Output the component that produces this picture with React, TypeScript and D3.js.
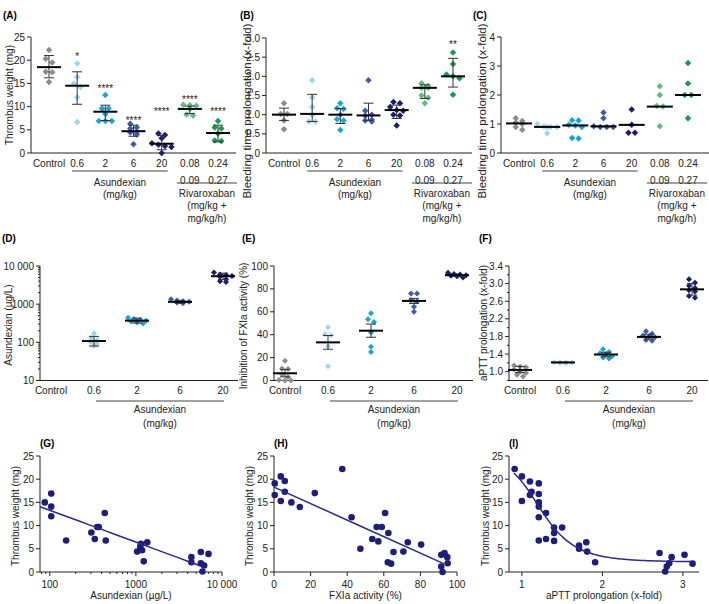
import React from "react";
import * as d3 from "d3";

// ---------------- DATA ----------------
const catsABC = ["Control", "0.6", "2", "6", "20", "0.08", "0.24"];
const catsABCrow2 = ["", "", "", "", "", "0.09", "0.27"];
const catsDEF = ["Control", "0.6", "2", "6", "20"];
const groupColors = ["#8c8c8c", "#9dd7ec", "#1ba3d5", "#3d5cb0", "#1c1c70", "#5cbd82", "#17994f"];

// (A) Thrombus weight (mg) – mean ± SD
const thrombusA = [
  [22.2, 20.3, 19.5, 17.5, 17.4, 15.3],
  [19.3, 16.4, 15.0, 14.2, 12.0, 6.7],
  [12.5, 9.6, 9.6, 8.4, 6.9, 6.9, 6.9],
  [6.3, 5.5, 5.3, 4.6, 4.4, 4.0, 1.9],
  [4.2, 3.9, 3.2, 2.1, 1.8, 1.5, 1.3, 0.0],
  [10.4, 10.3, 10.2, 9.5, 8.3, 8.1],
  [6.9, 5.5, 5.3, 4.2, 2.7, 2.6],
];
const thrombusMeanA = [18.5, 14.5, 8.9, 4.7, 2.0, 9.5, 4.3];
const thrombusLoA = [16.2, 10.5, 7.0, 3.6, 0.7, 8.5, 2.4];
const thrombusHiA = [21.0, 17.5, 10.3, 6.0, 3.8, 10.1, 6.0];
const starsA = ["", "*", "****", "****", "****", "****", "****"];
const starLevelA = [0, 21.0, 14.0, 7.2, 9.0, 11.6, 9.0];

// (B) Bleeding time prolongation – median with IQR
const bleedB = [
  [1.3, 1.02, 1.02, 0.85, 0.62],
  [1.9, 1.45, 1.2, 1.0, 0.82, 0.82],
  [1.3, 1.17, 1.15, 1.0, 0.88, 0.85, 0.6],
  [1.9, 1.1, 1.0, 0.97, 0.87, 0.85, 0.82],
  [1.33, 1.3, 1.2, 1.12, 1.1, 1.0, 0.98, 0.72],
  [1.82, 1.75, 1.7, 1.7, 1.5, 1.45, 1.3],
  [2.62, 2.32, 2.05, 2.0, 1.95, 1.52],
];
const bleedMedB = [1.0, 1.02, 1.0, 0.98, 1.12, 1.7, 2.0];
const bleedLoB = [0.85, 0.82, 0.77, 0.85, 0.9, 1.42, 1.72];
const bleedHiB = [1.17, 1.53, 1.16, 1.3, 1.25, 1.78, 2.47];
const starsB = ["", "", "", "", "", "", "**"];
const starLevelB = [0, 0, 0, 0, 0, 0, 2.85];

// (C) Bleeding time prolongation – median
const bleedC = [
  [1.2, 1.1, 1.05, 1.0, 0.9, 0.8],
  [1.0, 0.92, 0.9, 0.9, 0.9, 0.68],
  [1.13, 1.12, 0.97, 0.95, 0.9, 0.52, 0.5],
  [1.4, 1.2, 0.92, 0.9, 0.9, 0.9],
  [1.5, 0.97, 0.7, 0.7],
  [2.3, 2.0, 1.62, 1.6, 0.92],
  [3.1, 2.4, 2.0, 2.0, 1.2],
];
const bleedMedC = [1.02, 0.9, 0.95, 0.92, 0.97, 1.6, 2.0];

// (D) Asundexian plasma conc. (µg/L)
const asuD = [
  [],
  [170, 130, 115, 100, 90, 80],
  [440, 410, 390, 370, 350, 330, 310],
  [1350, 1250, 1200, 1150, 1100, 1050],
  [6800, 6000, 5800, 5500, 5200, 4500, 4000, 3800],
];
const asuMeanD = [null, 108, 370, 1150, 5400];
const asuLoD = [null, 80, 320, 1050, 4400];
const asuHiD = [null, 143, 430, 1260, 6500];

// (E) Inhibition of FXIa activity (%)
const fxiaE = [
  [17.2, 10.5, 10.0, 5.5, 3.0, 0.5, 0.0, 0.0],
  [46.5, 40.5, 39.5, 30, 12.5],
  [58.7, 53.5, 51, 42, 29.5, 25],
  [76, 76, 70, 69, 64.5, 60],
  [94, 93, 92.5, 92, 91.5, 91, 90],
];
const fxiaMeanE = [6.3, 33.3, 43.5, 69.5, 92];
const fxiaLoE = [3.2, 27.3, 37.8, 67.3, 91.3];
const fxiaHiE = [9.5, 39.3, 49.3, 71.7, 92.7];

// (F) aPTT prolongation (x-fold)
const apttF = [
  [1.14, 1.12, 1.1, 1.05, 1.0, 0.97, 0.93, 0.89],
  [1.215, 1.21, 1.21, 1.21, 1.205, 1.2],
  [1.51, 1.45, 1.42, 1.4, 1.35, 1.32, 1.3],
  [1.92, 1.86, 1.82, 1.8, 1.78, 1.72, 1.7],
  [3.1, 3.02, 2.95, 2.9, 2.85, 2.82, 2.72, 2.68],
];
const apttMeanF = [1.04, 1.21, 1.39, 1.79, 2.87];
const apttLoF = [0.98, 1.205, 1.34, 1.74, 2.74];
const apttHiF = [1.12, 1.215, 1.44, 1.85, 3.0];

// (G) thrombus vs asundexian conc.
const asuConcG = [87.5, 104, 104, 104, 155, 304, 333, 355, 371, 435, 447, 1034, 1124, 1147, 1180, 1234, 1356, 4410, 4410, 5680, 5680, 5930, 6200, 6970];
const thrombusG = [15.0, 16.9, 14.1, 12.0, 6.8, 8.5, 7.1, 9.7, 9.7, 12.7, 6.8, 4.4, 5.5, 6.1, 4.7, 2.3, 6.4, 3.2, 2.1, 4.3, 1.9, 0.1, 1.4, 3.9];
const fitG = { intercept: 27.0, slope: -6.85, from: 77, to: 6200 };

// (H) thrombus vs FXIa activity
const fxiaH = [0.4, 0.4, 3.7, 3.7, 5.9, 5.9, 9.5, 14.1, 22.3, 37.3, 42.4, 47.2, 53.7, 56.1, 57.0, 58.9, 60.7, 62.5, 62.2, 64.0, 65.3, 70.7, 73.1, 80.4, 91.4, 91.4, 92.1, 93.2, 94.7, 94.9];
const thrombusH = [19.1, 16.6, 20.6, 15.3, 19.6, 17.3, 15.0, 14.0, 17.0, 22.2, 11.8, 5.0, 7.1, 9.7, 6.6, 9.7, 12.7, 8.4, 2.1, 1.8, 4.3, 4.4, 6.4, 5.9, 3.7, 1.2, 0.0, 4.1, 3.2, 1.9];
const fitH = { intercept: 18.3, slope: -0.178, from: 0, to: 93 };

// (I) thrombus vs aPTT prolongation
const apttI = [0.91, 1.0, 1.0, 1.1, 1.12, 1.1, 1.21, 1.21, 1.21, 1.21, 1.21, 1.21, 1.3, 1.3, 1.4, 1.4, 1.4, 1.5, 1.71, 1.71, 1.8, 1.81, 1.91, 2.71, 2.78, 2.8, 2.83, 2.86, 3.02, 3.12];
const thrombusI = [22.2, 20.6, 15.3, 19.5, 17.3, 16.6, 19.1, 16.8, 15.0, 14.1, 11.8, 6.8, 12.7, 7.1, 9.6, 8.4, 6.7, 9.6, 5.7, 5.0, 6.4, 4.4, 2.1, 4.1, 0.1, 1.2, 1.9, 3.2, 3.7, 1.8];
const fitI = { bottom: 2.15, top: 24.0, ec50: 1.25, hill: 6, from: 0.9, to: 3.12 };

// ---------------- RENDERING ----------------
const FONT = "'Liberation Sans', Arial, Helvetica, sans-serif";
const AX = "#222";
const TXT = "#222";
const NAVY = "#1e1e78";

function diamond(x: number, y: number, r: number) {
  return `M${x},${y - r}L${x + r},${y}L${x},${y + r}L${x - r},${y}Z`;
}

function swarm(values: number[], yf: (v: number) => number, cx: number, step: number, maxRow = 4) {
  const order = values.map((_, i) => i).sort((a, b) => values[b] - values[a]);
  const out: { x: number; y: number }[] = new Array(values.length);
  let row: number[] = [];
  let rowY = 0;
  const flush = () => {
    const n = row.length;
    row.forEach((i, k) => {
      out[i] = { x: cx + (k - (n - 1) / 2) * step, y: yf(values[i]) };
    });
    row = [];
  };
  for (const i of order) {
    const py = yf(values[i]);
    if (row.length && (Math.abs(py - rowY) > step * 0.6 || row.length >= maxRow)) flush();
    if (!row.length) rowY = py;
    row.push(i);
  }
  flush();
  return out;
}

function YAxis({ axisX, y, yTop, yBottom, ticks, fmt, minor }: any) {
  return (
    <g>
      <line x1={axisX} x2={axisX} y1={yBottom} y2={yTop} stroke={AX} strokeWidth={1} />
      {ticks.map((t: number) => (
        <g key={"t" + t}>
          <line x1={axisX - 4} x2={axisX} y1={y(t)} y2={y(t)} stroke={AX} />
          <text x={axisX - 6} y={y(t) + 3.5} textAnchor="end" fontSize={10} fill={TXT}>
            {fmt(t)}
          </text>
        </g>
      ))}
      {(minor || []).map((t: number) => (
        <line key={"m" + t} x1={axisX - 2} x2={axisX} y1={y(t)} y2={y(t)} stroke={AX} />
      ))}
    </g>
  );
}

function CatPanel(p: any) {
  const { axisX, axisEnd, y, yBottom, x, cats, cats2, groups, colors, center, lo, hi, lineHalf, capHalf, step, marker, stars, starLevels } = p;
  return (
    <g>
      <line x1={axisX} x2={axisEnd} y1={yBottom} y2={yBottom} stroke={AX} />
      {cats.map((c: string) => (
        <text key={"c" + c} x={x(c)} y={yBottom + 13.5} textAnchor="middle" fontSize={10} fill={TXT}>
          {c}
        </text>
      ))}
      {cats2 &&
        cats2.map((c: string, i: number) =>
          c ? (
            <text key={"c2" + i} x={x(cats[i])} y={yBottom + 30.5} textAnchor="middle" fontSize={10} fill={TXT}>
              {c}
            </text>
          ) : null
        )}
      {groups.map((vals: number[], gi: number) =>
        swarm(vals, y, x(cats[gi]), step).map((pt, k) => (
          <path key={`p${gi}-${k}`} d={diamond(pt.x, pt.y, marker / 2)} fill={colors[gi]} />
        ))
      )}
      {groups.map((_: any, gi: number) => {
        const cx = x(cats[gi]);
        const m = center[gi];
        if (m == null) return null;
        return (
          <g key={"s" + gi}>
            {lo && hi && lo[gi] != null && (
              <g stroke="#333" strokeWidth={1}>
                <line x1={cx} x2={cx} y1={y(lo[gi])} y2={y(hi[gi])} />
                <line x1={cx - capHalf} x2={cx + capHalf} y1={y(lo[gi])} y2={y(lo[gi])} />
                <line x1={cx - capHalf} x2={cx + capHalf} y1={y(hi[gi])} y2={y(hi[gi])} />
              </g>
            )}
            <line x1={cx - lineHalf} x2={cx + lineHalf} y1={y(m)} y2={y(m)} stroke="#000" strokeWidth={2} />
          </g>
        );
      })}
      {stars &&
        stars.map((s: string, gi: number) =>
          s ? (
            <text key={"st" + gi} x={x(cats[gi])} y={y(starLevels[gi]) + 4} textAnchor="middle" fontSize={10} fill={TXT}>
              {s}
            </text>
          ) : null
        )}
    </g>
  );
}

function GroupLabelsABC({ x }: any) {
  const a1 = x("0.6") - 5, a2 = x("20") + 6;
  const r1 = x("0.08") - 13, r2 = x("0.24") + 19;
  const am = (a1 + a2) / 2, rm = (r1 + r2) / 2;
  return (
    <g fontSize={10} fill={TXT} textAnchor="middle">
      <line x1={a1} x2={a2} y1={171} y2={171} stroke="#444" />
      <text x={am} y={185.5}>Asundexian</text>
      <text x={am} y={198}>(mg/kg)</text>
      <line x1={r1} x2={r2} y1={183} y2={183} stroke="#444" />
      <text x={rm} y={196.5}>Rivaroxaban</text>
      <text x={rm} y={209}>(mg/kg +</text>
      <text x={rm} y={221.5}>mg/kg/h)</text>
    </g>
  );
}

function GroupLabelsDEF({ x }: any) {
  const a1 = x("0.6") + 2, a2 = x("20") + 1;
  const am = (a1 + a2) / 2;
  return (
    <g fontSize={10} fill={TXT} textAnchor="middle">
      <line x1={a1} x2={a2} y1={401} y2={401} stroke="#444" />
      <text x={am} y={412.5}>Asundexian</text>
      <text x={am} y={426.5}>(mg/kg)</text>
    </g>
  );
}

function YTitle({ x, y, text, size = 10 }: any) {
  return (
    <text transform={`translate(${x},${y}) rotate(-90)`} textAnchor="middle" fontSize={size} fill={TXT}>
      {text}
    </text>
  );
}

function PanelLabel({ x, y, text }: any) {
  return (
    <text x={x} y={y} fontSize={10} fontWeight="bold" fill="#000">
      {text}
    </text>
  );
}

function ScatterPanel(p: any) {
  const { axisX, axisEnd, x, y, xs, ys, xTicks, xFmt, xMinor, curve, xTitle } = p;
  const yBottom = 572;
  return (
    <g>
      <YAxis axisX={axisX} y={y} yTop={456} yBottom={yBottom} ticks={[0, 5, 10, 15, 20, 25]} fmt={(v: number) => String(v)} />
      <line x1={axisX} x2={axisEnd} y1={yBottom} y2={yBottom} stroke={AX} />
      {xTicks.map((t: number) => (
        <g key={"xt" + t}>
          <line x1={x(t)} x2={x(t)} y1={yBottom} y2={yBottom + 4} stroke={AX} />
          <text x={x(t)} y={yBottom + 15.5} textAnchor="middle" fontSize={10} fill={TXT}>
            {xFmt(t)}
          </text>
        </g>
      ))}
      {(xMinor || []).map((t: number) => (
        <line key={"xm" + t} x1={x(t)} x2={x(t)} y1={yBottom} y2={yBottom + 2} stroke={AX} />
      ))}
      <text x={(axisX + axisEnd) / 2} y={599} textAnchor="middle" fontSize={10} fill={TXT}>
        {xTitle}
      </text>
      {xs.map((v: number, i: number) => (
        <circle key={"pt" + i} cx={x(v)} cy={y(ys[i])} r={3.3} fill={NAVY} />
      ))}
      <path d={curve} fill="none" stroke="#2a2a8c" strokeWidth={1.5} />
    </g>
  );
}

export default function App() {
  // ---- scales for A/B/C ----
  const yA = d3.scaleLinear().domain([0, 25]).range([153, 37]);
  const yB = d3.scaleLinear().domain([0, 3]).range([153, 38]);
  const yC = d3.scaleLinear().domain([0, 4]).range([153, 37]);
  const xA = d3.scalePoint<string>().domain(catsABC).range([49, 218]);
  const xB = d3.scalePoint<string>().domain(catsABC).range([284, 453]);
  const xC = d3.scalePoint<string>().domain(catsABC).range([519, 688]);

  // ---- scales for D/E/F ----
  const yD = d3.scaleLog().domain([10, 10000]).range([380.5, 266]);
  const yE = d3.scaleLinear().domain([0, 100]).range([380.5, 266]);
  const yF = d3.scaleLinear().domain([0.8, 3.4]).range([380.5, 266]);
  const xD = d3.scalePoint<string>().domain(catsDEF).range([51, 223]);
  const xE = d3.scalePoint<string>().domain(catsDEF).range([285, 457]);
  const xF = d3.scalePoint<string>().domain(catsDEF).range([520, 692]);

  // ---- scales for G/H/I ----
  const yG = d3.scaleLinear().domain([0, 25]).range([572, 456]);
  const xG = d3.scaleLog().domain([77, 10000]).range([40, 222]);
  const xH = d3.scaleLinear().domain([0, 100]).range([274, 457]);
  const xI = d3.scaleLinear().domain([0.84, 3.2]).range([509, 699]);

  const sample = (a: number, b: number, n: number, log = false) =>
    d3.range(n + 1).map((i) => (log ? Math.pow(10, Math.log10(a) + ((Math.log10(b) - Math.log10(a)) * i) / n) : a + ((b - a) * i) / n));
  const curveG = d3.line<number>().x((v) => xG(v)).y((v) => yG(fitG.intercept + fitG.slope * Math.log10(v)))(sample(fitG.from, fitG.to, 20, true)) || "";
  const curveH = d3.line<number>().x((v) => xH(v)).y((v) => yG(fitH.intercept + fitH.slope * v))(sample(fitH.from, fitH.to, 2)) || "";
  const curveI =
    d3
      .line<number>()
      .x((v) => xI(v))
      .y((v) => yG(fitI.bottom + (fitI.top - fitI.bottom) / (1 + Math.pow(v / fitI.ec50, fitI.hill))))
      .curve(d3.curveBasis)(sample(fitI.from, fitI.to, 80)) || "";

  const fmt1 = (v: number) => (v === 0 ? "0" : v.toFixed(1));
  const logMinor = (a: number, b: number) => {
    const out: number[] = [];
    for (let dec = 1; dec < 100000; dec *= 10) for (let k = 2; k <= 9; k++) { const v = dec * k; if (v > a && v < b) out.push(v); }
    return out;
  };

  return (
    <svg width={709} height={604} style={{ position: "absolute", left: 0, top: 0, background: "#fff" }} fontFamily={FONT}>
      <rect width={709} height={604} fill="#fff" />

      {/* ---------- A ---------- */}
      <PanelLabel x={3} y={19} text="(A)" />
      <YAxis axisX={31} y={yA} yTop={37} yBottom={153} ticks={[0, 5, 10, 15, 20, 25]} fmt={(v: number) => String(v)} />
      <YTitle x={13} y={95} text="Thrombus weight (mg)" />
      <CatPanel axisX={31} axisEnd={236} y={yA} yBottom={153} x={xA} cats={catsABC} cats2={catsABCrow2} groups={thrombusA} colors={groupColors}
        center={thrombusMeanA} lo={thrombusLoA} hi={thrombusHiA} lineHalf={12} capHalf={5} step={6.5} marker={6.5} stars={starsA} starLevels={starLevelA} />
      <GroupLabelsABC x={xA} />

      {/* ---------- B ---------- */}
      <PanelLabel x={240} y={19} text="(B)" />
      <YAxis axisX={266} y={yB} yTop={38} yBottom={153} ticks={[0, 0.5, 1, 1.5, 2, 2.5, 3]} fmt={fmt1} />
      <YTitle x={251} y={111} text="Bleeding time prolongation (x-fold)" size={11.5} />
      <CatPanel axisX={266} axisEnd={472} y={yB} yBottom={153} x={xB} cats={catsABC} cats2={catsABCrow2} groups={bleedB} colors={groupColors}
        center={bleedMedB} lo={bleedLoB} hi={bleedHiB} lineHalf={12} capHalf={5} step={6.5} marker={6.5} stars={starsB} starLevels={starLevelB} />
      <GroupLabelsABC x={xB} />

      {/* ---------- C ---------- */}
      <PanelLabel x={473} y={19} text="(C)" />
      <YAxis axisX={501} y={yC} yTop={37} yBottom={153} ticks={[0, 1, 2, 3, 4]} fmt={(v: number) => String(v)} />
      <YTitle x={486} y={111} text="Bleeding time prolongation (x-fold)" size={11.5} />
      <CatPanel axisX={501} axisEnd={709} y={yC} yBottom={153} x={xC} cats={catsABC} cats2={catsABCrow2} groups={bleedC} colors={groupColors}
        center={bleedMedC} lineHalf={13} capHalf={5} step={6.5} marker={6.5} />
      <GroupLabelsABC x={xC} />

      {/* ---------- D ---------- */}
      <PanelLabel x={2} y={242} text="(D)" />
      <YAxis axisX={40} y={yD} yTop={266} yBottom={380.5} ticks={[10, 100, 1000, 10000]} fmt={(v: number) => (v === 10000 ? "10 000" : String(v))} minor={logMinor(10, 10000)} />
      <YTitle x={11.5} y={325} text="Asundexian (µg/L)" />
      <CatPanel axisX={40} axisEnd={238} y={yD} yBottom={380.5} x={xD} cats={catsDEF} groups={asuD} colors={groupColors}
        center={asuMeanD} lo={asuLoD} hi={asuHiD} lineHalf={12} capHalf={5} step={6} marker={6} />
      <GroupLabelsDEF x={xD} />

      {/* ---------- E ---------- */}
      <PanelLabel x={242} y={242} text="(E)" />
      <YAxis axisX={274} y={yE} yTop={266} yBottom={380.5} ticks={[0, 20, 40, 60, 80, 100]} fmt={(v: number) => String(v)} />
      <YTitle x={246.5} y={326} text="Inhibition of FXIa activity (%)" />
      <CatPanel axisX={274} axisEnd={473} y={yE} yBottom={380.5} x={xE} cats={catsDEF} groups={fxiaE} colors={groupColors}
        center={fxiaMeanE} lo={fxiaLoE} hi={fxiaHiE} lineHalf={12} capHalf={5} step={6} marker={6} />
      <GroupLabelsDEF x={xE} />

      {/* ---------- F ---------- */}
      <PanelLabel x={479} y={242} text="(F)" />
      <YAxis axisX={509} y={yF} yTop={266} yBottom={380.5} ticks={[1.0, 1.4, 1.8, 2.2, 2.6, 3.0, 3.4]} fmt={(v: number) => v.toFixed(1)} minor={[0.8, 1.2, 1.6, 2.0, 2.4, 2.8, 3.2]} />
      <YTitle x={486.5} y={323} text="aPTT prolongation (x-fold)" />
      <CatPanel axisX={509} axisEnd={708} y={yF} yBottom={380.5} x={xF} cats={catsDEF} groups={apttF} colors={groupColors}
        center={apttMeanF} lo={apttLoF} hi={apttHiF} lineHalf={12} capHalf={5} step={6} marker={6} />
      <GroupLabelsDEF x={xF} />

      {/* ---------- G ---------- */}
      <PanelLabel x={40} y={447} text="(G)" />
      <YTitle x={18.5} y={516} text="Thrombus weight (mg)" />
      <ScatterPanel axisX={40} axisEnd={222} x={xG} y={yG} xs={asuConcG} ys={thrombusG} xTicks={[100, 1000, 10000]}
        xFmt={(v: number) => (v === 10000 ? "10 000" : String(v))} xMinor={[80, 90, ...logMinor(100, 10000)]} curve={curveG} xTitle="Asundexian (µg/L)" />

      {/* ---------- H ---------- */}
      <PanelLabel x={274} y={447} text="(H)" />
      <YTitle x={252.5} y={516} text="Thrombus weight (mg)" />
      <ScatterPanel axisX={274} axisEnd={457} x={xH} y={yG} xs={fxiaH} ys={thrombusH} xTicks={[0, 20, 40, 60, 80, 100]}
        xFmt={(v: number) => String(v)} curve={curveH} xTitle="FXIa activity (%)" />

      {/* ---------- I ---------- */}
      <PanelLabel x={509} y={447} text="(I)" />
      <YTitle x={488.5} y={516} text="Thrombus weight (mg)" />
      <ScatterPanel axisX={509} axisEnd={699} x={xI} y={yG} xs={apttI} ys={thrombusI} xTicks={[1, 2, 3]}
        xFmt={(v: number) => String(v)} curve={curveI} xTitle="aPTT prolongation (x-fold)" />
    </svg>
  );
}
